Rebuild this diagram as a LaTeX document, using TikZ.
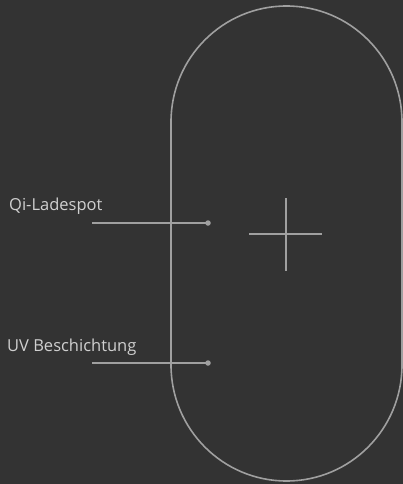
\documentclass[tikz,border=0pt]{standalone}
\usepackage{fontspec}
\setmainfont{Open Sans}
\definecolor{bg}{HTML}{333333}
\definecolor{ln}{HTML}{A0A0A0}
\definecolor{tx}{HTML}{D0D0D0}
\begin{document}
\begin{tikzpicture}[x=1pt,y=-1pt,
  outline/.style={draw=ln,line width=1.6pt},
  leader/.style={draw=ln,line width=1.3pt},
  lbl/.style={text=tx,font=\fontsize{16.5}{18}\selectfont,anchor=base west,inner sep=0pt},
  dotm/.style={circle,fill=ln,inner sep=0pt,minimum size=5.5pt}]
\fill[bg] (0,0) rectangle (403,484);
\useasboundingbox (0,0) rectangle (403,484);
% stadium
\draw[outline] (171,122) arc[start angle=180,end angle=0,x radius=115.5,y radius=-116] -- (402,365) arc[start angle=0,end angle=-180,x radius=115.5,y radius=-116] -- cycle;
% cross
\draw[leader] (249,234) -- (322,234);
\draw[leader] (286,198) -- (286,271);
% labels
\node[lbl] (qi) at (9,210) {Qi-Ladespot};
\node[dotm] (qid) at (208,223) {};
\coordinate (qis) at (92,223);
\draw[leader] (qis) -- (qid.center);
\node[lbl] (uv) at (7,351) {UV Beschichtung};
\node[dotm] (uvd) at (208,363) {};
\coordinate (uvs) at (92,363);
\draw[leader] (uvs) -- (uvd.center);
\end{tikzpicture}
\end{document}
